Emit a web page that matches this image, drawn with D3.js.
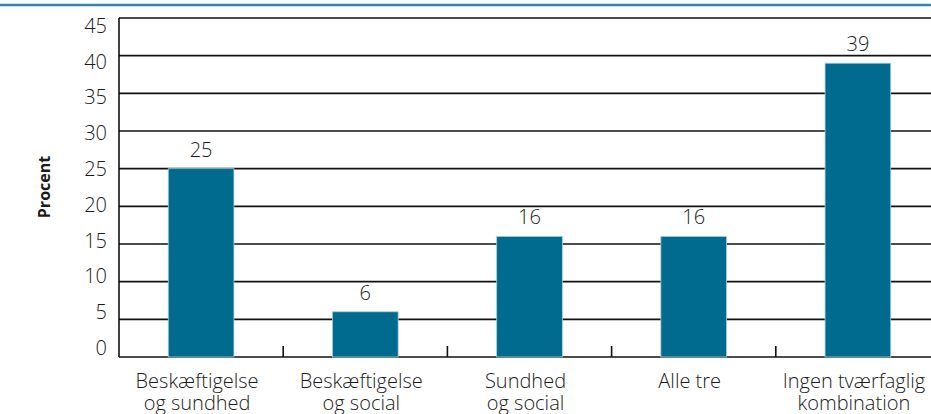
<!DOCTYPE html>
<html>
<head>
<meta charset="utf-8">
<script src="https://cdn.jsdelivr.net/npm/d3@7"></script>
<style>
  html, body { margin: 0; padding: 0; background: #fff; }
  svg { display: block; font-family: "Open Sans", "Noto Sans", sans-serif; }
</style>
</head>
<body>
<svg width="931" height="414"></svg>
<script>
// data
var categories = [
  ["Beskæftigelse", "og sundhed"],
  ["Beskæftigelse", "og social"],
  ["Sundhed", "og social"],
  ["Alle tre"],
  ["Ingen tværfaglig", "kombination"]
];
var values = [25, 6, 16, 16, 39];
var yTicks = [0, 5, 10, 15, 20, 25, 30, 35, 40, 45];
var yLabel = "Procent";

(function () {
  var svg = d3.select("svg");
  var W = 931;
  var plotLeft = 119, plotRight = 940, plotTop = 18, plotBottom = 357;

  var data = categories.map(function(c, i) { return { key: i, lines: c, value: values[i] }; });

  var x = d3.scaleBand()
    .domain(data.map(function(d) { return d.key; }))
    .range([plotLeft, plotRight])
    .paddingInner(0.6)
    .paddingOuter(0.3);

  var y = d3.scaleLinear().domain([0, 45]).range([plotBottom, plotTop]);
  // tick labels in the source sit on a slightly tighter spacing than the gridlines
  var yText = d3.scaleLinear().domain([0, 45]).range([348, 26]);

  // top rule
  svg.append("line")
    .attr("x1", 0).attr("x2", W)
    .attr("y1", 5).attr("y2", 5)
    .attr("stroke", "#2b87ab")
    .attr("stroke-width", 2.5);

  // gridlines
  svg.append("g")
    .selectAll("line")
    .data(yTicks)
    .enter().append("line")
    .attr("x1", plotLeft).attr("x2", plotRight)
    .attr("y1", function(d) { return y(d); })
    .attr("y2", function(d) { return y(d); })
    .attr("stroke", "#111")
    .attr("stroke-width", 1.6);

  // y axis line
  svg.append("line")
    .attr("x1", plotLeft).attr("x2", plotLeft)
    .attr("y1", y(45)).attr("y2", y(0))
    .attr("stroke", "#111")
    .attr("stroke-width", 1.6);

  // y tick labels
  var yAxis = svg.append("g")
    .attr("transform", "translate(" + plotLeft + ",0)")
    .call(d3.axisLeft(yText).tickValues(yTicks).tickSize(0).tickPadding(12));
  yAxis.select(".domain").remove();
  yAxis.selectAll("text")
    .attr("font-size", 20)
    .attr("font-weight", 300)
    .attr("font-family", "'Open Sans', sans-serif")
    .attr("fill", "#1a1a1a");

  // bars
  svg.append("g")
    .selectAll("rect")
    .data(data)
    .enter().append("rect")
    .attr("x", function(d) { return x(d.key); })
    .attr("width", x.bandwidth())
    .attr("y", function(d) { return y(d.value); })
    .attr("height", function(d) { return y(0) - y(d.value); })
    .attr("fill", "#006b8e")
    .attr("stroke", "#a6cfdd")
    .attr("stroke-width", 0.8);

  // value labels
  svg.append("g")
    .selectAll("text")
    .data(data)
    .enter().append("text")
    .attr("x", function(d) { return x(d.key) + x.bandwidth() / 2; })
    .attr("y", function(d) { return y(d.value) - 12; })
    .attr("text-anchor", "middle")
    .attr("font-size", 20)
    .attr("font-weight", 300)
    .attr("fill", "#1a1a1a")
    .text(function(d) { return d.value; });

  // x ticks at band boundaries, pointing up
  var gap = x.step() - x.bandwidth();
  svg.append("g")
    .selectAll("line")
    .data(data.slice(1))
    .enter().append("line")
    .attr("x1", function(d) { return x(d.key) - gap / 2; })
    .attr("x2", function(d) { return x(d.key) - gap / 2; })
    .attr("y1", plotBottom)
    .attr("y2", plotBottom - 11)
    .attr("stroke", "#111")
    .attr("stroke-width", 1.6);

  // x category labels
  var xl = svg.append("g")
    .selectAll("text")
    .data(data)
    .enter().append("text")
    .attr("text-anchor", "middle")
    .attr("font-size", 20)
    .attr("font-weight", 300)
    .attr("fill", "#1a1a1a");
  xl.each(function(d) {
    var cx = x(d.key) + x.bandwidth() / 2 - 4;
    d3.select(this).selectAll("tspan")
      .data(d.lines)
      .enter().append("tspan")
      .attr("x", cx)
      .attr("y", function(t, i) { return 388 + i * 22; })
      .text(function(t) { return t; });
  });

  // y axis title
  svg.append("text")
    .attr("transform", "translate(50,187) rotate(-90)")
    .attr("text-anchor", "middle")
    .attr("font-size", 16)
    .attr("font-weight", "bold")
    .attr("fill", "#1a1a1a")
    .text(yLabel);
})();
</script>
</body>
</html>
